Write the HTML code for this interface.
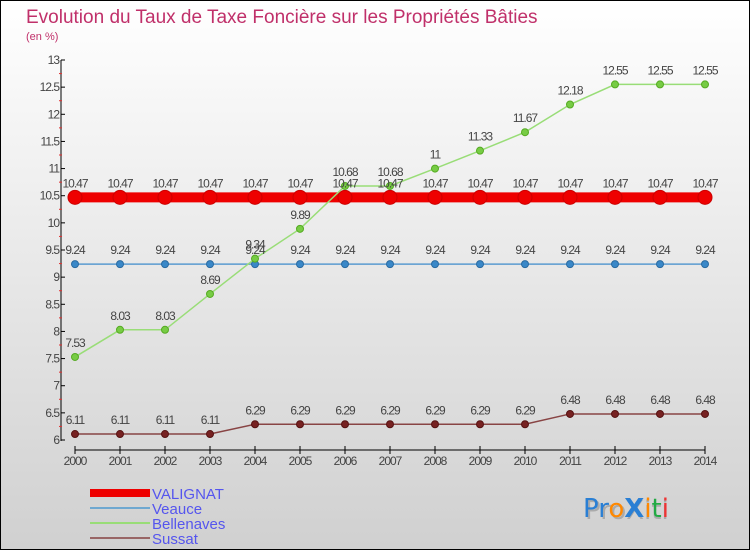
<!DOCTYPE html>
<html><head><meta charset="utf-8"><style>
body{margin:0;width:750px;height:550px;overflow:hidden;font-family:"Liberation Sans",sans-serif}
</style></head><body>
<svg width="750" height="550" xmlns="http://www.w3.org/2000/svg" id="chart">
<defs><linearGradient id="bg" x1="0" y1="0" x2="0" y2="1"><stop offset="0" stop-color="#ffffff"/><stop offset="1" stop-color="#d0d0d0"/></linearGradient></defs>
<rect x="0.5" y="0.5" width="749" height="549" fill="url(#bg)" stroke="#000"/>
<text x="26" y="23" font-size="19" fill="#c0306a">Evolution du Taux de Taxe Foncière sur les Propriétés Bâties</text>
<text x="26" y="40" font-size="11" fill="#c0306a">(en %)</text>
<g id="axes"></g><g id="series"></g><g id="labels"></g>
<g>
<rect x="90" y="489" width="60" height="8" fill="#ee0000"/>
<text x="152" y="499" font-size="15" fill="#5555ee">VALIGNAT</text>
<line x1="90" y1="508" x2="150" y2="508" stroke="#6fa8d0" stroke-width="2"/>
<text x="152" y="514" font-size="15" fill="#5555ee">Veauce</text>
<line x1="90" y1="523" x2="150" y2="523" stroke="#99dd77" stroke-width="2"/>
<text x="152" y="529" font-size="15" fill="#5555ee">Bellenaves</text>
<line x1="90" y1="538" x2="150" y2="538" stroke="#996666" stroke-width="2"/>
<text x="152" y="544" font-size="15" fill="#5555ee">Sussat</text>
</g>
<g font-size="26" font-family="'DejaVu Sans',sans-serif">
<text x="585" y="519" fill="#aaaaaa">ProXiti</text>
<text x="583" y="517"><tspan fill="#2a7fd4">Pr</tspan><tspan fill="#ff8800">o</tspan><tspan fill="#2a7fd4" font-weight="bold">X</tspan><tspan fill="#ff8800">i</tspan><tspan fill="#22aa44">t</tspan><tspan fill="#ee3333">i</tspan></text>
</g>
</svg>
<script>
const years=[2000,2001,2002,2003,2004,2005,2006,2007,2008,2009,2010,2011,2012,2013,2014];
const valignat=[10.47,10.47,10.47,10.47,10.47,10.47,10.47,10.47,10.47,10.47,10.47,10.47,10.47,10.47,10.47];
const veauce=[9.24,9.24,9.24,9.24,9.24,9.24,9.24,9.24,9.24,9.24,9.24,9.24,9.24,9.24,9.24];
const bellenaves=[7.53,8.03,8.03,8.69,9.34,9.89,10.68,10.68,11,11.33,11.67,12.18,12.55,12.55,12.55];
const sussat=[6.11,6.11,6.11,6.11,6.29,6.29,6.29,6.29,6.29,6.29,6.29,6.48,6.48,6.48,6.48];
const yTicks=[6,6.5,7,7.5,8,8.5,9,9.5,10,10.5,11,11.5,12,12.5,13];
const NS="http://www.w3.org/2000/svg";
const xs=i=>75+i*45;
const ys=v=>440-(v-6)*(380/7);
function mk(t,a,p){const e=document.createElementNS(NS,t);for(const k in a)e.setAttribute(k,a[k]);document.getElementById(p).appendChild(e);return e;}
const ax=mk('line',{x1:61,y1:60,x2:61,y2:441,stroke:'#000'},'axes');


const bx=mk('line',{x1:75,y1:450,x2:705,y2:450,stroke:'#000'},'axes');


yTicks.forEach((v,k)=>{
 mk('line',{x1:61,y1:ys(v),x2:65,y2:ys(v),stroke:'#000'},'axes');
 if(k<yTicks.length-1) mk('line',{x1:59,y1:ys(v+0.25),x2:62,y2:ys(v+0.25),stroke:'#e03030'},'axes');
 const t=mk('text',{x:59,y:ys(v)+4,'font-size':12,fill:'#444','text-anchor':'end','letter-spacing':'-1'},'axes');
 
 
 t.textContent=String(v);
});
years.forEach((y,i)=>{
 mk('line',{x1:xs(i),y1:446,x2:xs(i),y2:454,stroke:'#000'},'axes');
 const t=mk('text',{x:xs(i),y:465,'font-size':12,fill:'#444','text-anchor':'middle','letter-spacing':'-1'},'axes');
 
 
 t.textContent=y;
});
function series(data,name,color,w,r,dot,dstroke){
 const pts=data.map((v,i)=>xs(i)+','+ys(v)).join(' ');
 const l=mk('polyline',{points:pts,fill:'none',stroke:color,'stroke-width':w},'series');
 
 
 data.forEach((v,i)=>{
  const c=mk('circle',{cx:xs(i),cy:ys(v),r:r,fill:dot,stroke:dstroke,'stroke-width':1},'series');
  
  
  const t=mk('text',{x:xs(i),y:ys(v)-10,'font-size':12,fill:'#444','text-anchor':'middle','letter-spacing':'-1'},'labels');
  
  
  t.textContent=String(v);
 });
}
series(valignat,'valignat','#ee0000',10,7,'#ee0000','#cc0000');
series(veauce,'veauce','#5a9ad0',1.5,3.5,'#3a88c8','#2a6aa0');
series(bellenaves,'bellenaves','#99dd77',1.5,3.5,'#77cc44','#55aa22');
series(sussat,'sussat','#884444',1.5,3.5,'#772222','#551111');
</script>
</body></html>
